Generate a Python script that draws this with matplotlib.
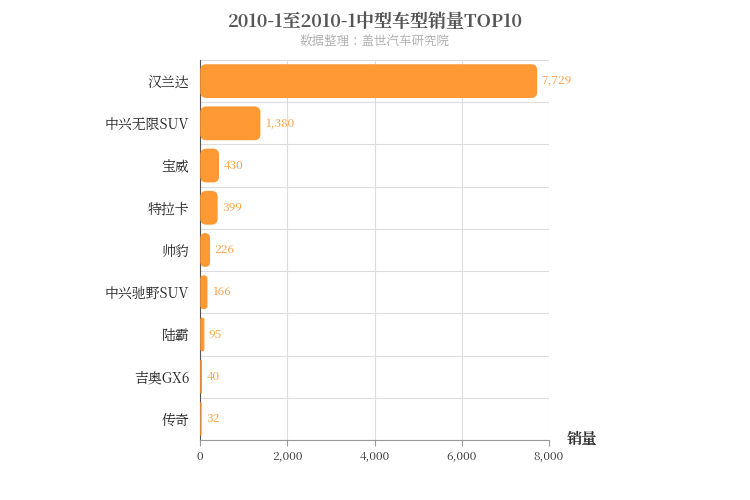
import matplotlib
matplotlib.use("Agg")
import matplotlib.pyplot as plt
from matplotlib import font_manager
from matplotlib.patches import FancyBboxPatch

# pick whatever CJK family is actually registered
cjk = [f.name for f in font_manager.fontManager.ttflist if "CJK" in f.name]
cjk_name = "Noto Sans CJK SC" if "Noto Sans CJK SC" in cjk else (cjk[0] if cjk else "DejaVu Sans")
plt.rcParams["font.family"] = [cjk_name, "DejaVu Sans"]

categories = ["汉兰达", "中兴无限SUV", "宝威", "特拉卡", "帅豹", "中兴驰野SUV", "陆霸", "吉奥GX6", "传奇"]
sales = [7729, 1380, 430, 399, 226, 166, 95, 40, 32]
xticks = [0, 2000, 4000, 6000, 8000]

color = "#FF9933"
fig = plt.figure(figsize=(7.5, 5), dpi=100)
ax = fig.add_axes([0.267, 0.12, 0.465, 0.76])

n = len(categories)
h = 0.8
# rounding in data units: ~6px
xpp = 8000 / 349
ypp = n / 380
for i, v in enumerate(sales):
    y = i - h / 2
    r = min(6 * xpp, v / 2)
    p = FancyBboxPatch((0, y), v, h, boxstyle=f"round,pad=0,rounding_size={r}",
                       mutation_aspect=ypp / xpp, fc=color, ec="none", zorder=3)
    ax.add_patch(p)
    ax.text(v + 100, i, f"{v:,}", va="center", ha="left", color=color,
            fontsize=8.5, zorder=4)

ax.set_xlim(0, 8000)
ax.set_ylim(n - 0.5, -0.5)
ax.set_xticks(xticks)
ax.set_xticklabels([f"{t:,}" for t in xticks], fontsize=8.5, color="#333")
ax.set_yticks(range(n))
ax.set_yticklabels(categories, fontsize=10, color="#222")
ax.tick_params(axis="y", length=0, pad=8)
ax.tick_params(axis="x", length=4, color="#999")
ax.set_yticks([i + 0.5 for i in range(-1, n)], minor=True)
ax.tick_params(axis="y", which="minor", length=0)
ax.grid(axis="x", color="#ddd", lw=0.8, zorder=0)
ax.grid(axis="y", which="minor", color="#ddd", lw=0.8, zorder=0)
for s in ["top", "right"]:
    ax.spines[s].set_visible(False)
ax.spines["left"].set_color("#555")
ax.spines["bottom"].set_color("#999")

fig.text(0.5, 0.955, "2010-1至2010-1中型车型销量TOP10", ha="center", va="center",
         fontsize=13, fontweight="bold", color="#555")
fig.text(0.5, 0.917, "数据整理：盖世汽车研究院", ha="center", va="center",
         fontsize=9, color="#aaa")
fig.text(0.755, 0.122, "销量", ha="left", va="center", fontsize=11,
         fontweight="bold", color="#333")

fig.savefig("out.png", dpi=100)
